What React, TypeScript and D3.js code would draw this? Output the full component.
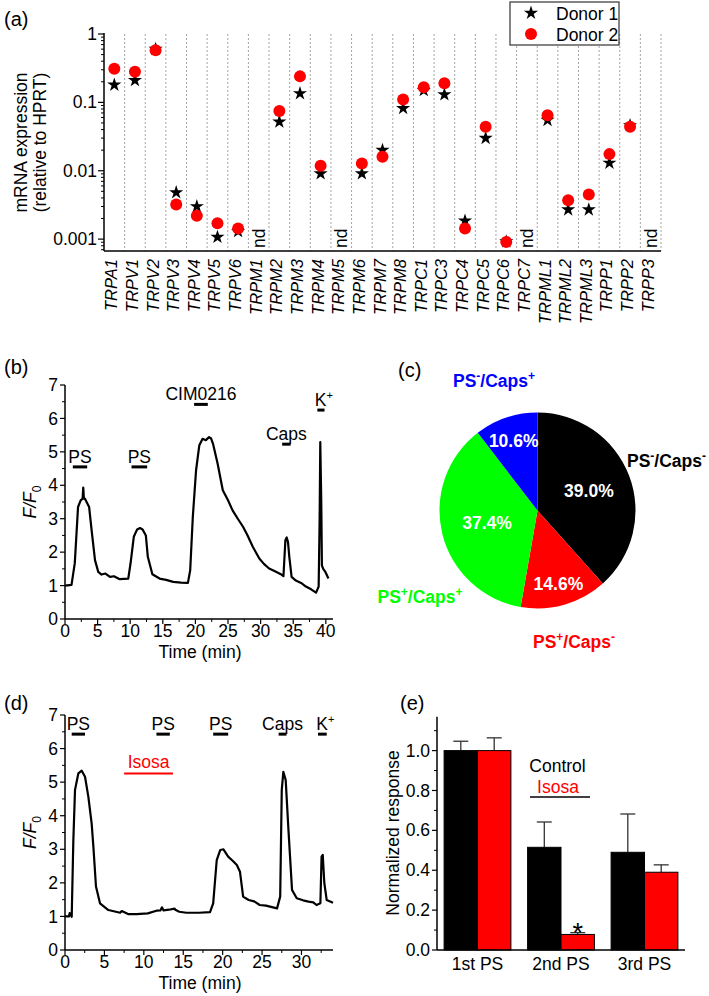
import React from "react";
import * as d3 from "d3";

const FONT = "'Liberation Sans', Arial, Helvetica, sans-serif";

// ---------- Panel (a) data ----------
const genes = [
  "TRPA1", "TRPV1", "TRPV2", "TRPV3", "TRPV4", "TRPV5", "TRPV6",
  "TRPM1", "TRPM2", "TRPM3", "TRPM4", "TRPM5", "TRPM6", "TRPM7", "TRPM8",
  "TRPC1", "TRPC3", "TRPC4", "TRPC5", "TRPC6", "TRPC7",
  "TRPML1", "TRPML2", "TRPML3", "TRPP1", "TRPP2", "TRPP3",
];
const donor1: (number | null)[] = [
  0.18, 0.21, 0.6, 0.0048, 0.003, 0.00107, 0.0013,
  null, 0.052, 0.135, 0.0091, null, 0.0091, 0.02, 0.082,
  0.15, 0.13, 0.00185, 0.03, 0.00092, null,
  0.055, 0.0027, 0.0027, 0.013, 0.046, null,
];
const donor2: (number | null)[] = [
  0.31, 0.28, 0.58, 0.0032, 0.0022, 0.0017, 0.00143,
  null, 0.075, 0.24, 0.0118, null, 0.0128, 0.016, 0.11,
  0.166, 0.19, 0.00143, 0.044, 0.00091, null,
  0.065, 0.0037, 0.0045, 0.0175, 0.044, null,
];
const aTicks = [1, 0.1, 0.01, 0.001];
const aTickLabels = ["1", "0.1", "0.01", "0.001"];

// ---------- Panel (b) data ----------
const bTime = [
  0, 1.0, 1.5, 2.0, 2.4, 2.7, 2.8, 2.9, 3.06, 3.7,
  4.08, 4.6, 5.1, 5.6, 6.2, 6.9, 7.5, 8.4, 9.0, 9.7,
  10.05, 10.55, 11.06, 11.5, 11.9, 12.4, 12.7, 13.4, 14.5, 15.5,
  16.6, 17.8, 18.85, 19.2, 19.6, 20.1, 20.6, 21.1, 21.6, 22.1,
  22.4, 22.7, 23.4, 24.2, 25.0, 25.7, 26.5, 27.3, 28.0, 28.8,
  29.8, 30.5, 31.3, 32.2, 33.1, 33.5, 33.8, 34.0, 34.2, 34.4,
  34.75, 35.4, 36.2, 36.95, 37.8, 38.5, 38.9, 39.05, 39.15, 39.3,
  39.4, 39.6, 39.9, 40.4,
];
const bVal = [
  1.0, 1.02, 1.67, 3.35, 3.55, 3.6, 3.93, 3.6, 3.6, 3.35,
  2.66, 1.76, 1.41, 1.33, 1.36, 1.26, 1.28, 1.19, 1.2, 1.21,
  1.66, 2.46, 2.68, 2.72, 2.68, 2.5, 1.86, 1.34, 1.21, 1.17,
  1.11, 1.09, 1.08, 1.46, 3.05, 4.45, 5.2, 5.39, 5.35, 5.44,
  5.4, 5.24, 4.65, 3.85, 3.55, 3.25, 3.0, 2.76, 2.5, 2.16,
  1.81, 1.65, 1.51, 1.43, 1.34, 1.28, 2.36, 2.44, 2.3, 1.86,
  1.26, 1.15, 1.08, 0.97, 0.88, 0.79, 0.97, 3.0, 5.29, 3.5,
  1.6, 1.5, 1.42, 1.21,
];
const bAnnotLabels = ["PS", "PS", "CIM0216", "Caps", "K"];
const bAnnotStart = [1.2, 10.2, 19.8, 33.3, 38.7];
const bAnnotEnd = [3.4, 12.6, 21.9, 34.6, 39.8];
const bAnnotLevel = [4.55, 4.55, 6.42, 5.23, 6.25];

// ---------- Panel (c) data ----------
const pieNames = ["PS-/Caps-", "PS+/Caps-", "PS+/Caps+", "PS-/Caps+"];
const pieValues = [39.0, 14.6, 37.4, 10.6];
const pieColors = ["#000000", "#ff0000", "#00ff00", "#0000ff"];

// ---------- Panel (d) data ----------
const dTime = [
  0, 0.5, 0.6, 0.85, 1.06, 1.27, 1.69, 2.12, 2.54, 2.96,
  3.38, 3.6, 3.93, 4.44, 5.5, 7.0, 7.2, 8.0, 9.1, 10.5,
  11.6, 12.1, 12.3, 12.5, 13.2, 13.9, 14.0, 14.5, 15.4, 17.0,
  18.4, 18.8, 19.25, 19.7, 20.1, 20.7, 21.3, 21.8, 22.2, 22.6,
  23.3, 24.0, 24.7, 25.5, 26.9, 27.3, 27.5, 27.7, 28.0, 28.35,
  28.8, 29.4, 30.2, 30.9, 31.5, 31.9, 32.4, 32.55, 32.7, 32.9,
  33.2, 34.0,
];
const dVal = [
  1.0, 1.0, 1.1, 0.99, 3.28, 4.77, 5.26, 5.34, 5.16, 4.57,
  3.77, 3.08, 1.89, 1.39, 1.19, 1.11, 1.16, 1.07, 1.07, 1.09,
  1.17, 1.18, 1.27, 1.18, 1.2, 1.23, 1.2, 1.14, 1.11, 1.11,
  1.13, 1.39, 2.68, 2.98, 3.0, 2.78, 2.65, 2.53, 2.33, 1.59,
  1.49, 1.45, 1.34, 1.32, 1.24, 1.59, 4.77, 5.31, 5.06, 3.57,
  1.79, 1.54, 1.48, 1.44, 1.42, 1.34, 1.39, 2.78, 2.83, 1.99,
  1.49, 1.41,
];
const dAnnotLabels = ["PS", "PS", "PS", "Caps", "K"];
const dAnnotStart = [0.85, 11.6, 18.8, 27.1, 32.1];
const dAnnotEnd = [2.54, 13.3, 20.7, 28.1, 33.2];
const dAnnotLevel = 6.43;
const isosaStart = 7.5;
const isosaEnd = 13.7;
const isosaLevel = 5.26;

// ---------- Panel (e) data ----------
const eGroups = ["1st PS", "2nd PS", "3rd PS"];
const eControl = [1.0, 0.515, 0.49];
const eControlErr = [0.047, 0.127, 0.192];
const eIsosa = [1.0, 0.078, 0.39];
const eIsosaErr = [0.064, 0.009, 0.037];

function Sup({ children, size = 11, up = 7 }: { children: string; size?: number; up?: number }) {
  return (
    <tspan dy={-up} fontSize={size}>
      {children}
    </tspan>
  );
}

function TracePanel(props: {
  x: d3.ScaleLinear<number, number>;
  y: d3.ScaleLinear<number, number>;
  time: number[];
  val: number[];
  xMajor: number[];
  xMinor: number[];
}) {
  const { x, y, time, val, xMajor, xMinor } = props;
  const [x0, x1] = x.range();
  const [y0, y1] = y.range();
  const line = d3
    .line<number>()
    .x((_, i) => x(time[i]))
    .y((v) => y(v));
  const yMajor = d3.range(0, 8, 1);
  const yMinor = d3.range(0.5, 7, 1);
  return (
    <g>
      <path d={line(val) || ""} fill="none" stroke="#000" strokeWidth={2.2} strokeLinejoin="round" />
      <line x1={x0} x2={x0} y1={y0} y2={y1} stroke="#000" strokeWidth={1.5} />
      <line x1={x0} x2={x1} y1={y0} y2={y0} stroke="#000" strokeWidth={1.5} />
      {yMajor.map((v) => (
        <g key={"ym" + v}>
          <line x1={x0 - 5} x2={x0} y1={y(v)} y2={y(v)} stroke="#000" strokeWidth={1.2} />
          <text x={x0 - 7} y={y(v)} dy="0.35em" textAnchor="end" fontSize={17.5} fontFamily={FONT}>
            {v}
          </text>
        </g>
      ))}
      {yMinor.map((v) => (
        <line key={"yn" + v} x1={x0 - 3} x2={x0} y1={y(v)} y2={y(v)} stroke="#000" strokeWidth={1} />
      ))}
      {xMajor.map((v) => (
        <g key={"xm" + v}>
          <line x1={x(v)} x2={x(v)} y1={y0} y2={y0 + 5} stroke="#000" strokeWidth={1.2} />
          <text x={x(v)} y={y0 + 17.5} textAnchor="middle" fontSize={17.5} fontFamily={FONT}>
            {v}
          </text>
        </g>
      ))}
      {xMinor.map((v) => (
        <line key={"xn" + v} x1={x(v)} x2={x(v)} y1={y0} y2={y0 + 3} stroke="#000" strokeWidth={1} />
      ))}
      <text x={200} y={y0 + 38.5} textAnchor="middle" fontSize={17.5} fontFamily={FONT}>
        Time (min)
      </text>
      <text
        transform={`translate(36,${(y0 + y1) / 2}) rotate(-90)`}
        textAnchor="middle"
        fontSize={17.5}
        fontFamily={FONT}
      >
        <tspan fontStyle="italic">F/F</tspan>
        <tspan dy={5} fontSize={12}>0</tspan>
      </text>
    </g>
  );
}

function AnnotText({ label, cx, baseline }: { label: string; cx: number; baseline: number }) {
  if (label === "K") {
    return (
      <text x={cx + 3} y={baseline} textAnchor="middle" fontSize={17.5} fontFamily={FONT}>
        K<Sup size={11} up={7}>+</Sup>
      </text>
    );
  }
  return (
    <text x={cx} y={baseline} textAnchor="middle" fontSize={17.5} fontFamily={FONT}>
      {label}
    </text>
  );
}

export default function App() {
  // ----- Panel (a) -----
  const xA = d3.scaleBand<string>().domain(genes).range([104, 661]);
  const yA = d3.scaleLog().domain([0.00067, 1]).range([251, 34]);
  const minorA: number[] = [];
  for (let e = -4; e < 0; e++) {
    for (let k = 2; k <= 9; k++) {
      const v = k * Math.pow(10, e);
      if (v >= 0.00067 && v < 1) minorA.push(v);
    }
  }
  const starPath = d3.symbol().type(d3.symbolStar).size(62)() || "";
  const bwA = xA.bandwidth();
  const cxA = (g: string) => (xA(g) as number) + bwA / 2;

  // ----- Panel (b) -----
  const xB = d3.scaleLinear().domain([0, 41.1]).range([65, 333]);
  const yB = d3.scaleLinear().domain([0, 7]).range([619, 385]);

  // ----- Panel (c) -----
  const pie = d3.pie<number>().sort(null).value((d) => d);
  const arcsC = pie(pieValues);
  const rC = 98;
  const cxC = 537.5;
  const cyC = 510.5;
  const arcGen = d3.arc<d3.PieArcDatum<number>>().innerRadius(0).outerRadius(rC);
  const labelRadius = [55, 76, 52, 74];

  // ----- Panel (d) -----
  const xD = d3.scaleLinear().domain([0, 34]).range([65, 333]);
  const yD = d3.scaleLinear().domain([0, 7]).range([950, 715]);

  // ----- Panel (e) -----
  const xE = d3.scaleBand<string>().domain(eGroups).range([437, 685]).paddingInner(0.2).paddingOuter(0.085);
  const xSub = d3.scaleBand<string>().domain(["c", "i"]).range([0, xE.bandwidth()]);
  const yE = d3.scaleLinear().domain([0, 1.17]).range([950, 716.7]);
  const eMajor = d3.range(0, 1.01, 0.2);
  const eMinor = d3.range(0.1, 1.15, 0.2);
  const fmtE = d3.format(".1f");

  return (
    <svg
      width={709}
      height={996}
      viewBox="0 0 709 996"
      style={{ position: "absolute", left: 0, top: 0, background: "#fff" }}
      fontFamily={FONT}
    >
      <rect x={0} y={0} width={709} height={996} fill="#fff" />

      {/* ================= Panel (a) ================= */}
      <text x={4} y={26} fontSize={20} fontFamily={FONT}>(a)</text>
      {genes.map((g) => (
        <line
          key={"grid" + g}
          x1={(xA(g) as number) + bwA}
          x2={(xA(g) as number) + bwA}
          y1={34}
          y2={251}
          stroke="#9a9a9a"
          strokeWidth={0.9}
          strokeDasharray="2,2"
        />
      ))}
      <line x1={104} x2={104} y1={yA.range()[1] - 1} y2={251} stroke="#000" strokeWidth={1.5} />
      <line x1={104} x2={661} y1={251} y2={251} stroke="#000" strokeWidth={1.5} />
      {aTicks.map((t, i) => (
        <g key={"at" + t}>
          <line x1={98} x2={104} y1={yA(t)} y2={yA(t)} stroke="#000" strokeWidth={1.2} />
          <text x={97} y={yA(t)} dy="0.35em" textAnchor="end" fontSize={17.5} fontFamily={FONT}>
            {aTickLabels[i]}
          </text>
        </g>
      ))}
      {minorA.map((t) => (
        <line key={"am" + t} x1={101} x2={104} y1={yA(t)} y2={yA(t)} stroke="#000" strokeWidth={1} />
      ))}
      <text transform={`translate(27,142.5) rotate(-90)`} textAnchor="middle" fontSize={17.5} fontFamily={FONT}>
        mRNA expression
      </text>
      <text transform={`translate(46,142.5) rotate(-90)`} textAnchor="middle" fontSize={17.5} fontFamily={FONT}>
        (relative to HPRT)
      </text>
      {genes.map((g) => (
        <text
          key={"xl" + g}
          transform={`translate(${cxA(g) + 3},259) rotate(-90)`}
          textAnchor="end"
          fontSize={16.5}
          fontStyle="italic"
          fontFamily={FONT}
        >
          {g}
        </text>
      ))}
      {genes.map((g, i) =>
        donor1[i] === null && donor2[i] === null ? (
          <text
            key={"nd" + g}
            transform={`translate(${cxA(g) + 6},248) rotate(-90)`}
            textAnchor="start"
            fontSize={17.5}
            fontFamily={FONT}
          >
            nd
          </text>
        ) : null
      )}
      {genes.map((g, i) =>
        donor1[i] !== null ? (
          <path key={"s" + g} d={starPath} transform={`translate(${cxA(g)},${yA(donor1[i] as number)})`} fill="#000" />
        ) : null
      )}
      {genes.map((g, i) =>
        donor2[i] !== null ? (
          <circle key={"c" + g} cx={cxA(g)} cy={yA(donor2[i] as number)} r={6} fill="#ff0000" />
        ) : null
      )}
      {/* legend */}
      <rect x={510} y={2} width={109} height={43} fill="#fff" stroke="#333" strokeWidth={1.2} />
      <path d={starPath} transform="translate(531,13)" fill="#000" />
      <circle cx={531} cy={34} r={6} fill="#ff0000" />
      <text x={556} y={19.5} fontSize={17.5} fontFamily={FONT}>Donor 1</text>
      <text x={556} y={40.5} fontSize={17.5} fontFamily={FONT}>Donor 2</text>

      {/* ================= Panel (b) ================= */}
      <text x={4} y={374} fontSize={20} fontFamily={FONT}>(b)</text>
      <TracePanel
        x={xB}
        y={yB}
        time={bTime}
        val={bVal}
        xMajor={d3.range(0, 41, 5)}
        xMinor={d3.range(2.5, 41, 5)}
      />
      {bAnnotLabels.map((lab, i) => {
        const xs = xB(bAnnotStart[i]);
        const xe = xB(bAnnotEnd[i]);
        const yy = yB(bAnnotLevel[i]);
        return (
          <g key={"ba" + i}>
            <line x1={xs} x2={xe} y1={yy} y2={yy} stroke="#000" strokeWidth={3} />
            <AnnotText label={lab} cx={(xs + xe) / 2} baseline={yy - 4} />
          </g>
        );
      })}

      {/* ================= Panel (c) ================= */}
      <text x={398} y={377} fontSize={20} fontFamily={FONT}>(c)</text>
      <g transform={`translate(${cxC},${cyC})`}>
        {arcsC.map((a, i) => (
          <path key={"arc" + i} d={arcGen(a) || ""} fill={pieColors[i]} />
        ))}
        {arcsC.map((a, i) => {
          const mid = (a.startAngle + a.endAngle) / 2;
          const r = labelRadius[i];
          return (
            <text
              key={"pl" + i}
              x={r * Math.sin(mid)}
              y={-r * Math.cos(mid)}
              dy="0.35em"
              textAnchor="middle"
              fontSize={17.5}
              fontWeight="bold"
              fill="#fff"
              fontFamily={FONT}
            >
              {pieValues[i].toFixed(1)}%
            </text>
          );
        })}
      </g>
      {/* outer labels */}
      <text x={627} y={467} fontSize={17.5} fontWeight="bold" fill={pieColors[0]} fontFamily={FONT}>
        PS<Sup size={12} up={7}>-</Sup>
        <tspan dy={7}>/Caps</tspan>
        <Sup size={12} up={7}>-</Sup>
      </text>
      <text x={574} y={648} textAnchor="middle" fontSize={17.5} fontWeight="bold" fill={pieColors[1]} fontFamily={FONT}>
        PS<Sup size={12} up={7}>+</Sup>
        <tspan dy={7}>/Caps</tspan>
        <Sup size={12} up={7}>-</Sup>
      </text>
      <text x={420} y={603} textAnchor="middle" fontSize={17.5} fontWeight="bold" fill={pieColors[2]} fontFamily={FONT}>
        PS<Sup size={12} up={7}>+</Sup>
        <tspan dy={7}>/Caps</tspan>
        <Sup size={12} up={7}>+</Sup>
      </text>
      <text x={494} y={387} textAnchor="middle" fontSize={17.5} fontWeight="bold" fill={pieColors[3]} fontFamily={FONT}>
        PS<Sup size={12} up={7}>-</Sup>
        <tspan dy={7}>/Caps</tspan>
        <Sup size={12} up={7}>+</Sup>
      </text>

      {/* ================= Panel (d) ================= */}
      <text x={4} y={710} fontSize={20} fontFamily={FONT}>(d)</text>
      <TracePanel
        x={xD}
        y={yD}
        time={dTime}
        val={dVal}
        xMajor={d3.range(0, 31, 5)}
        xMinor={d3.range(2.5, 34, 5)}
      />
      {dAnnotLabels.map((lab, i) => {
        const xs = xD(dAnnotStart[i]);
        const xe = xD(dAnnotEnd[i]);
        const yy = yD(dAnnotLevel);
        return (
          <g key={"da" + i}>
            <line x1={xs} x2={xe} y1={yy} y2={yy} stroke="#000" strokeWidth={3} />
            <AnnotText label={lab} cx={(xs + xe) / 2} baseline={yy - 4} />
          </g>
        );
      })}
      <line x1={xD(isosaStart)} x2={xD(isosaEnd)} y1={yD(isosaLevel)} y2={yD(isosaLevel)} stroke="#ff0000" strokeWidth={2} />
      <text
        x={(xD(isosaStart) + xD(isosaEnd)) / 2}
        y={yD(isosaLevel) - 5}
        textAnchor="middle"
        fontSize={17.5}
        fill="#ff0000"
        fontFamily={FONT}
      >
        Isosa
      </text>

      {/* ================= Panel (e) ================= */}
      <text x={400} y={710} fontSize={20} fontFamily={FONT}>(e)</text>
      {eGroups.map((g, i) => {
        const gx = xE(g) as number;
        const bw = xSub.bandwidth();
        const xc = gx + (xSub("c") as number);
        const xi = gx + (xSub("i") as number);
        return (
          <g key={"eg" + g}>
            <line x1={xc + bw / 2} x2={xc + bw / 2} y1={yE(eControl[i])} y2={yE(eControl[i] + eControlErr[i])} stroke="#333" strokeWidth={1.3} />
            <line x1={xc + bw / 2 - 7.5} x2={xc + bw / 2 + 7.5} y1={yE(eControl[i] + eControlErr[i])} y2={yE(eControl[i] + eControlErr[i])} stroke="#333" strokeWidth={1.3} />
            <line x1={xi + bw / 2} x2={xi + bw / 2} y1={yE(eIsosa[i])} y2={yE(eIsosa[i] + eIsosaErr[i])} stroke="#333" strokeWidth={1.3} />
            <line x1={xi + bw / 2 - 7.5} x2={xi + bw / 2 + 7.5} y1={yE(eIsosa[i] + eIsosaErr[i])} y2={yE(eIsosa[i] + eIsosaErr[i])} stroke="#333" strokeWidth={1.3} />
            <rect x={xc} y={yE(eControl[i])} width={bw} height={yE(0) - yE(eControl[i])} fill="#000" stroke="#000" strokeWidth={1} />
            <rect x={xi} y={yE(eIsosa[i])} width={bw} height={yE(0) - yE(eIsosa[i])} fill="#ff0000" stroke="#000" strokeWidth={1} />
            <text x={gx + xE.bandwidth() / 2} y={970} textAnchor="middle" fontSize={17.5} fontFamily={FONT}>
              {g}
            </text>
          </g>
        );
      })}
      {(() => {
        const gx = xE(eGroups[1]) as number;
        const xi = gx + (xSub("i") as number) + xSub.bandwidth() / 2;
        return (
          <text x={xi} y={yE(eIsosa[1] + eIsosaErr[1]) + 9} textAnchor="middle" fontSize={27} fontFamily={FONT}>
            *
          </text>
        );
      })()}
      <line x1={437} x2={437} y1={716.7} y2={950} stroke="#000" strokeWidth={1.5} />
      <line x1={437} x2={685} y1={950} y2={950} stroke="#000" strokeWidth={1.5} />
      {eMajor.map((v) => (
        <g key={"em" + v}>
          <line x1={432} x2={437} y1={yE(v)} y2={yE(v)} stroke="#000" strokeWidth={1.2} />
          <text x={430} y={yE(v)} dy="0.35em" textAnchor="end" fontSize={17.5} fontFamily={FONT}>
            {fmtE(v)}
          </text>
        </g>
      ))}
      {eMinor.map((v) => (
        <line key={"en" + v} x1={434} x2={437} y1={yE(v)} y2={yE(v)} stroke="#000" strokeWidth={1} />
      ))}
      <text transform={`translate(399,833) rotate(-90)`} textAnchor="middle" fontSize={17.5} fontFamily={FONT}>
        Normalized response
      </text>
      <text x={557.5} y={772} textAnchor="middle" fontSize={17.5} fontFamily={FONT}>Control</text>
      <text x={558} y={793} textAnchor="middle" fontSize={17.5} fill="#ff0000" fontFamily={FONT}>Isosa</text>
      <line x1={530} x2={590} y1={797} y2={797} stroke="#000" strokeWidth={1.3} />
    </svg>
  );
}
